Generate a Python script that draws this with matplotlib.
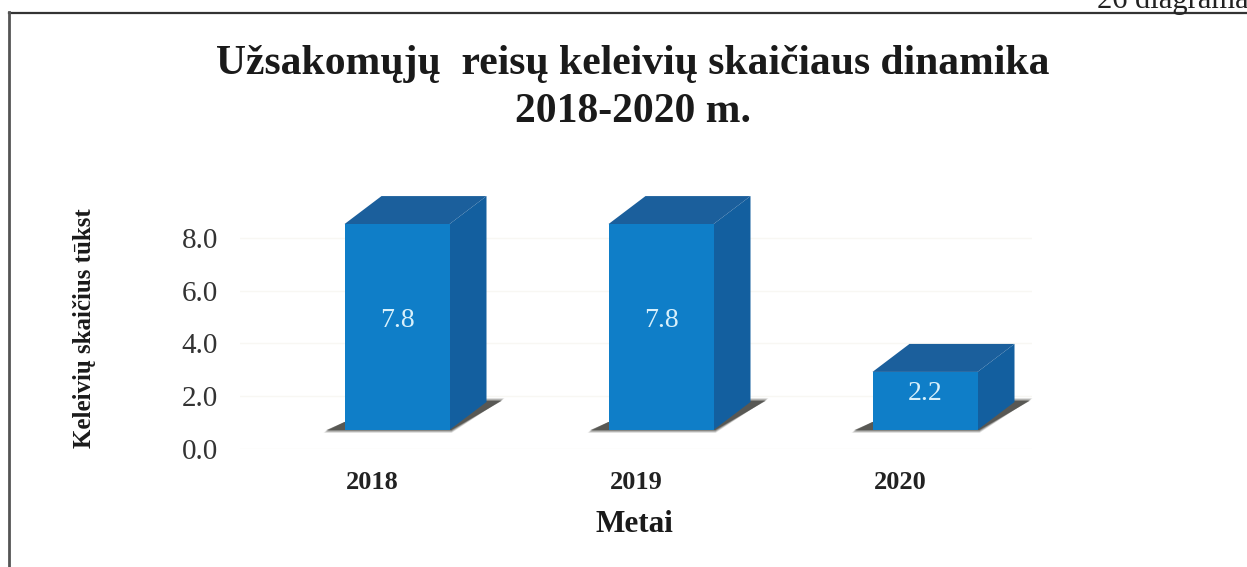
import matplotlib
matplotlib.use('Agg')
from matplotlib import pyplot as plt
from matplotlib.lines import Line2D

plt.rcParams['font.family'] = ['Liberation Serif', 'DejaVu Serif']

years = ['2018', '2019', '2020']
values = [7.8, 7.8, 2.2]
ticks = [0, 2, 4, 6, 8]
tick_labels = ['0.0', '2.0', '4.0', '6.0', '8.0']

W, H = 1247, 567
fig = plt.figure(figsize=(W / 100, H / 100), dpi=100)
fig.patch.set_facecolor('#ffffff')

# axes placed in pixels: 0 value sits at y=449, 26.4 px per unit, 264 px per year
x0, x1 = 240, 1032
y0, ptop = 449, 200
ax = fig.add_axes([x0 / W, (H - y0) / H, (x1 - x0) / W, (y0 - ptop) / H])
ax.set_xlim(-0.5, 2.5)
ax.set_ylim(0, (y0 - ptop) / 26.4)
ax.patch.set_alpha(0)
for s in ax.spines.values():
    s.set_visible(False)

ppx = 264.0
ppy = 26.4
shift_x = 25 / ppx    # front face offset from tick
lift = 19 / ppy       # front face lift from axis zero
bw = 105 / ppx
dx = 37 / ppx
dy = 28 / ppy

for i, v in enumerate(values):
    l = i + shift_x - bw / 2
    r = l + bw
    b = lift
    t = lift + v
    # floor shadow, a few soft layers
    for k, a in [(3, 0.15), (2, 0.25), (1, 0.35), (0, 0.55)]:
        ex = k / ppx
        ey = k / ppy
        ax.fill([l - 18 / ppx - ex, r + 2 / ppx, r + dx + 15 / ppx + ex, r + dx, l],
                [b - ey, b - ey, b + 29 / ppy + ey, b + 29 / ppy + ey, b + 8 / ppy],
                color='#33332e', alpha=a, lw=0, zorder=2, clip_on=False)
    # side
    ax.fill([r, r + dx, r + dx, r], [b, b + dy, t + dy, t], color='#135f9f', lw=0, zorder=3, clip_on=False)
    # top
    ax.fill([l, l + dx, r + dx, r], [t, t + dy, t + dy, t], color='#1b5f9c', lw=0, zorder=3, clip_on=False)
    # front
    ax.fill([l, r, r, l], [b, b, t, t], color='#0f7ec8', lw=0, zorder=4, clip_on=False)
    ax.text((l + r) / 2, b + v / 2 + 7 / ppy, str(v), color='#d8f0fb', ha='center', va='center',
            fontsize=20, zorder=5)

ax.set_xticks(range(len(years)))
ax.set_xticklabels(years, fontsize=19, fontweight='bold', color='#222222')
ax.set_yticks(ticks)
ax.set_yticklabels(tick_labels, fontsize=21, color='#333333')
ax.tick_params(axis='both', length=0)
ax.tick_params(axis='x', pad=15.5)
ax.tick_params(axis='y', pad=16)
ax.grid(axis='y', color='#f8f7f3', lw=1)
ax.set_axisbelow(True)

fig.text(633 / W, 1 - 64 / H, 'Užsakomųjų  reisų keleivių skaičiaus dinamika', ha='center', va='center',
         fontsize=30, fontweight='bold', color='#1a1a1a')
fig.text(633 / W, 1 - 112 / H, '2018-2020 m.', ha='center', va='center',
         fontsize=30, fontweight='bold', color='#1a1a1a')
fig.text(84 / W, 1 - 328 / H, 'Keleivių skaičius tūkst', rotation=90, ha='center', va='center',
         fontsize=18, fontweight='bold', color='#1a1a1a')
fig.text(634 / W, 1 - 525 / H, 'Metai', ha='center', va='center',
         fontsize=22.5, fontweight='bold', color='#1a1a1a')
fig.text(1097 / W, 1 - 8 / H, '26 diagrama', ha='left', va='baseline', fontsize=22, color='#222222')

# outer frame, only top and left show in the scan
def px_line(xs, ys, c='#333333', lw=1.6):
    fig.add_artist(Line2D([x / W for x in xs], [1 - y / H for y in ys], color=c, lw=lw))

px_line([9, 1247], [12.5, 12.5])
px_line([9, 9], [12, 567], c='#555555', lw=2)

plt.savefig('out.png', dpi=100, facecolor=fig.get_facecolor())
